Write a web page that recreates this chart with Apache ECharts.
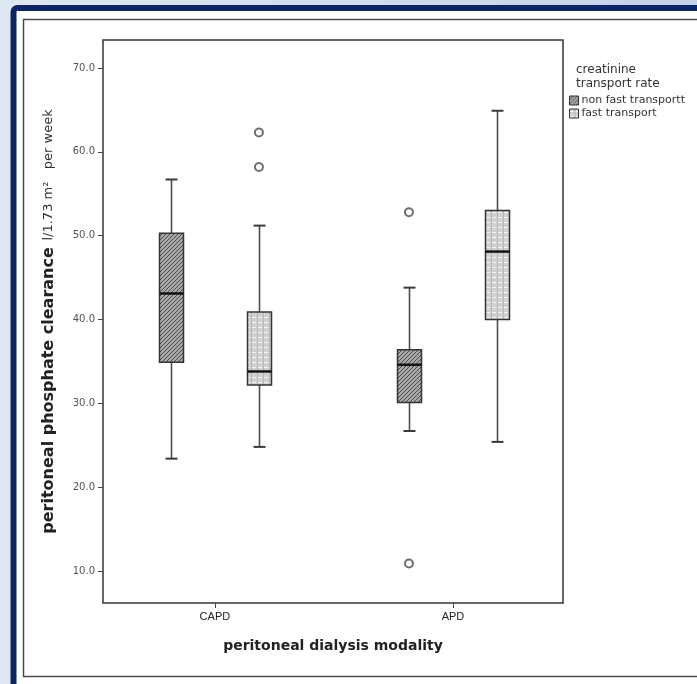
<!DOCTYPE html>
<html>
<head>
<meta charset="utf-8">
<script src="https://cdn.jsdelivr.net/npm/echarts@6/dist/echarts.min.js"></script>
<style>
  html, body { margin: 0; padding: 0; background: #fff; }
  #chart { width: 697px; height: 684px; }
</style>
</head>
<body>
<div id="chart"></div>
<script>
// Modalities on the x axis and the two transport groups
const categories = ['CAPD', 'APD'];
const groupNames = ['non fast transportt', 'fast transport'];

// Five-number summaries per modality: [lower whisker, Q1, median, Q3, upper whisker]
const nonFastStats = [
  [23.4, 34.9, 43.1, 50.3, 56.7],
  [26.7, 30.1, 34.6, 36.4, 43.8]
];
const fastStats = [
  [24.8, 32.2, 33.8, 40.9, 51.2],
  [25.4, 40.0, 48.1, 53.0, 64.9]
];

// Outliers: [modality index, value]
const nonFastOutliers = [[1, 52.8], [1, 10.9]];
const fastOutliers = [[0, 62.3], [0, 58.2]];

// Value-axis ticks
const yTicks = [10, 20, 30, 40, 50, 60, 70];

// Horizontal shift of each group inside a modality (axis units)
const groupOffset = [-0.185, 0.185];

function makeHatch() {
  const c = document.createElement('canvas');
  c.width = 4; c.height = 4;
  const g = c.getContext('2d');
  g.fillStyle = '#a8a8a8';
  g.fillRect(0, 0, 4, 4);
  g.strokeStyle = '#4c4c4c';
  g.lineWidth = 1;
  g.beginPath();
  g.moveTo(-1, 5); g.lineTo(5, -1);
  g.moveTo(-1, 1); g.lineTo(1, -1);
  g.moveTo(3, 5); g.lineTo(5, 3);
  g.stroke();
  return c;
}

function makeDots() {
  const c = document.createElement('canvas');
  c.width = 6; c.height = 5;
  const g = c.getContext('2d');
  g.fillStyle = '#d0d0d0';
  g.fillRect(0, 0, 6, 5);
  g.fillStyle = '#f4f4f4';
  g.fillRect(0, 2, 4, 1);
  g.fillStyle = '#b6b6b6';
  g.fillRect(5, 0, 1, 5);
  return c;
}

const hatchFill = { image: makeHatch(), repeat: 'repeat' };
const dotFill = { image: makeDots(), repeat: 'repeat' };

function boxData(stats, offset) {
  return stats.map(function (s, i) { return [i + offset].concat(s); });
}
function outlierData(list, offset) {
  return list.map(function (o) { return [o[0] + offset, o[1]]; });
}

function renderBox(params, api) {
  const x = api.value(0);
  const lo = api.coord([x, api.value(1)]);
  const q1 = api.coord([x, api.value(2)]);
  const med = api.coord([x, api.value(3)]);
  const q3 = api.coord([x, api.value(4)]);
  const hi = api.coord([x, api.value(5)]);
  const cx = Math.round(lo[0]) + 0.5;
  const half = 12, cap = 6;
  const whisker = { stroke: '#4d4d4d', lineWidth: 1.6 };
  const capStyle = { stroke: '#3a3a3a', lineWidth: 2 };
  return {
    type: 'group',
    children: [
      { type: 'line', shape: { x1: cx, y1: hi[1], x2: cx, y2: q3[1] }, style: whisker },
      { type: 'line', shape: { x1: cx, y1: q1[1], x2: cx, y2: lo[1] }, style: whisker },
      { type: 'line', shape: { x1: cx - cap, y1: hi[1], x2: cx + cap, y2: hi[1] }, style: capStyle },
      { type: 'line', shape: { x1: cx - cap, y1: lo[1], x2: cx + cap, y2: lo[1] }, style: capStyle },
      {
        type: 'rect',
        shape: { x: cx - half, y: q3[1], width: half * 2, height: q1[1] - q3[1] },
        style: { fill: api.visual('color'), stroke: '#333', lineWidth: 1.5 }
      },
      { type: 'line', shape: { x1: cx - half, y1: med[1], x2: cx + half, y2: med[1] }, style: { stroke: '#111', lineWidth: 2.5 } }
    ]
  };
}

const font = 'DejaVu Sans, Liberation Sans, sans-serif';
const chart = echarts.init(document.getElementById('chart'), null, { renderer: 'canvas' });

chart.setOption({
  animation: false,
  backgroundColor: {
    type: 'linear', x: 0, y: 0, x2: 1, y2: 0,
    colorStops: [{ offset: 0, color: '#dfe7f3' }, { offset: 1, color: '#c4d2ea' }]
  },
  graphic: [
    {
      type: 'rect', z: -10, silent: true,
      shape: { x: 13.5, y: 8, width: 800, height: 800, r: 4 },
      style: { fill: '#ffffff', stroke: '#0c2563', lineWidth: 6 }
    },
    {
      type: 'rect', z: -9, silent: true,
      shape: { x: 23.5, y: 19.5, width: 760, height: 657 },
      style: { fill: '#ffffff', stroke: '#4a4a4a', lineWidth: 1.5 }
    },
    {
      type: 'text', z: 5, left: 576, top: 63,
      style: {
        text: 'creatinine\ntransport rate', align: 'center',
        font: '12px ' + font, fill: '#333', lineHeight: 14
      }
    }
  ],
  grid: {
    left: 103, top: 40, width: 460, height: 563,
    show: true, backgroundColor: '#fff', borderColor: '#333', borderWidth: 1.5
  },
  legend: {
    data: groupNames,
    orient: 'vertical',
    left: 564, top: 90,
    icon: 'rect', itemWidth: 9, itemHeight: 9, itemGap: 2,
    itemStyle: { borderColor: '#333', borderWidth: 1 },
    textStyle: { fontFamily: font, fontSize: 11, color: '#333', padding: [0, 0, 0, -2] },
    selectedMode: false
  },
  xAxis: {
    type: 'value',
    min: -0.47, max: 1.462,
    splitLine: { show: false },
    axisLine: { show: false, onZero: false },
    axisTick: { show: true, customValues: [0, 1], length: 5, lineStyle: { color: '#444', width: 1 } },
    axisLabel: {
      customValues: [0, 1], margin: 8,
      formatter: function (v) { return categories[Math.round(v)]; },
      fontFamily: 'Liberation Sans, Arial, sans-serif', fontSize: 11, color: '#222'
    },
    name: 'peritoneal dialysis modality',
    nameLocation: 'middle', nameGap: 36,
    nameTextStyle: { fontFamily: font, fontSize: 14, fontWeight: 'bold', color: '#222' }
  },
  yAxis: {
    type: 'value',
    min: 6.18, max: 73.34,
    splitLine: { show: false },
    axisLine: { show: false, onZero: false },
    axisTick: { show: true, customValues: yTicks, length: 5, lineStyle: { color: '#444', width: 1 } },
    axisLabel: {
      customValues: yTicks, margin: 8,
      formatter: function (v) { return v.toFixed(1); },
      fontFamily: font, fontSize: 10, color: '#555'
    },
    name: '{b|peritoneal phosphate clearance}  {n|l/1.73 m²   per week}',
    nameLocation: 'middle', nameRotate: 90, nameGap: 45,
    nameTextStyle: {
      rich: {
        b: { fontFamily: font, fontSize: 16, fontWeight: 'bold', color: '#222', lineHeight: 18 },
        n: { fontFamily: font, fontSize: 13, color: '#333', lineHeight: 18 }
      }
    }
  },
  series: [
    {
      name: groupNames[0], type: 'custom', renderItem: renderBox,
      itemStyle: { color: hatchFill },
      encode: { x: 0, y: [1, 2, 3, 4, 5] },
      data: boxData(nonFastStats, groupOffset[0]), z: 3
    },
    {
      name: groupNames[1], type: 'custom', renderItem: renderBox,
      itemStyle: { color: dotFill },
      encode: { x: 0, y: [1, 2, 3, 4, 5] },
      data: boxData(fastStats, groupOffset[1]), z: 3
    },
    {
      name: 'outliers 1', type: 'scatter', symbol: 'circle', symbolSize: 8,
      itemStyle: { color: '#fff', borderColor: '#4a4a4a', borderWidth: 2 },
      data: outlierData(nonFastOutliers, groupOffset[0]), z: 4
    },
    {
      name: 'outliers 2', type: 'scatter', symbol: 'circle', symbolSize: 8,
      itemStyle: { color: '#fff', borderColor: '#4a4a4a', borderWidth: 2 },
      data: outlierData(fastOutliers, groupOffset[1]), z: 4
    }
  ]
});
</script>
</body>
</html>
